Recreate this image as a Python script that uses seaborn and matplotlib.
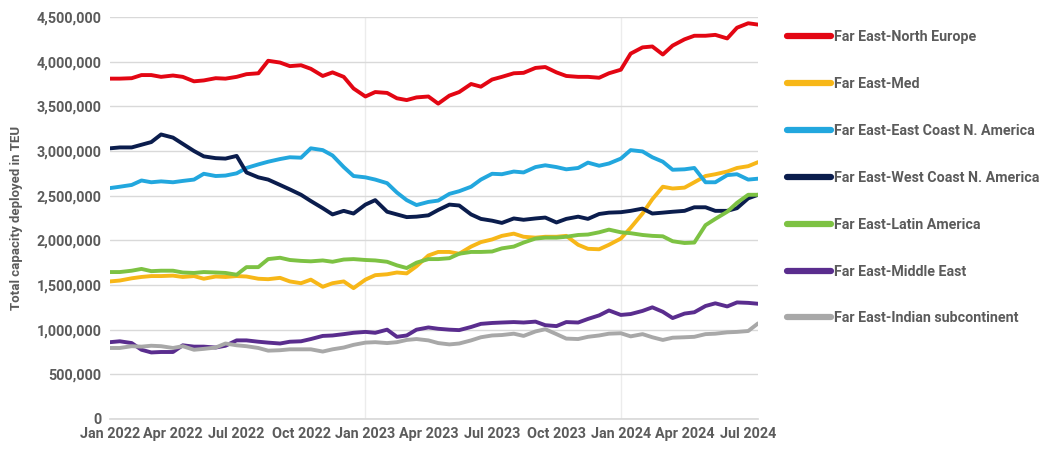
import numpy as np
import pandas as pd
import matplotlib
matplotlib.use("Agg")
import matplotlib.pyplot as plt
import matplotlib.dates as mdates
from matplotlib.ticker import FuncFormatter, MultipleLocator
import seaborn as sns

# ---------------- data (TEU, thousands), semi-monthly: 1st & 15th, Jan 2022 - Jul 2024
months = pd.date_range("2022-01-01", "2024-07-01", freq="MS")
dates = []
for m in months:
    dates += [m, m + pd.Timedelta(days=14)]

north_europe = [3810, 3810, 3815, 3850, 3850, 3830, 3845, 3830, 3780, 3790,
                3815, 3810, 3830, 3860, 3870, 4010, 3990, 3950, 3960, 3920,
                3840, 3880, 3830, 3700, 3610, 3660, 3650, 3590, 3570, 3600,
                3610, 3530, 3620, 3660, 3750, 3720, 3800, 3830, 3870, 3875,
                3930, 3940, 3880, 3840, 3830, 3830, 3820, 3870, 3910, 4090,
                4160, 4170, 4080, 4180, 4250, 4290, 4290, 4300, 4260, 4380,
                4430, 4415]
med = [1540, 1550, 1575, 1590, 1600, 1600, 1605, 1590, 1600, 1570,
       1595, 1590, 1600, 1595, 1570, 1565, 1580, 1540, 1520, 1560,
       1480, 1520, 1540, 1465, 1560, 1610, 1620, 1640, 1630, 1710,
       1830, 1870, 1870, 1850, 1930, 1980, 2010, 2050, 2075, 2040,
       2030, 2040, 2040, 2050, 1950, 1905, 1900, 1950, 2020, 2140,
       2300, 2460, 2600, 2580, 2590, 2650, 2720, 2740, 2770, 2810,
       2830, 2875]
east_coast = [2585, 2600, 2620, 2670, 2650, 2660, 2650, 2665, 2680, 2745,
              2720, 2725, 2750, 2810, 2850, 2880, 2910, 2930, 2925, 3030,
              3010, 2950, 2820, 2720, 2705, 2680, 2640, 2535, 2450, 2395,
              2430, 2445, 2520, 2550, 2600, 2680, 2745, 2740, 2770, 2760,
              2820, 2840, 2820, 2795, 2810, 2870, 2835, 2860, 2915, 3010,
              2995, 2930, 2880, 2790, 2795, 2810, 2650, 2650, 2730, 2740,
              2680, 2690]
west_coast = [3030, 3040, 3040, 3070, 3100, 3185, 3150, 3080, 3000, 2940,
              2920, 2915, 2945, 2760, 2705, 2680, 2620, 2570, 2510, 2440,
              2360, 2290, 2330, 2300, 2400, 2450, 2320, 2290, 2260, 2265,
              2280, 2340, 2400, 2390, 2290, 2240, 2220, 2195, 2245, 2230,
              2245, 2255, 2200, 2240, 2265, 2240, 2295, 2310, 2315, 2330,
              2355, 2300, 2310, 2320, 2330, 2370, 2370, 2330, 2330, 2360,
              2470, 2510]
latin_america = [1645, 1645, 1660, 1680, 1655, 1660, 1660, 1640, 1635, 1645,
                 1640, 1635, 1615, 1700, 1700, 1790, 1805, 1780, 1770, 1765,
                 1775, 1760, 1785, 1790, 1780, 1775, 1760, 1720, 1690, 1750,
                 1790, 1790, 1800, 1850, 1870, 1870, 1875, 1910, 1930, 1975,
                 2020, 2030, 2030, 2040, 2060, 2065, 2090, 2120, 2090, 2080,
                 2060, 2050, 2045, 1990, 1970, 1975, 2170, 2240, 2320, 2420,
                 2510, 2510]
middle_east = [860, 870, 850, 775, 745, 750, 750, 825, 810, 810,
               800, 820, 880, 880, 865, 855, 845, 865, 870, 895,
               930, 935, 950, 965, 975, 965, 1000, 920, 935, 1000,
               1025, 1010, 1000, 995, 1030, 1065, 1075, 1080, 1085, 1080,
               1090, 1050, 1040, 1085, 1080, 1120, 1160, 1215, 1165, 1175,
               1210, 1250, 1200, 1130, 1180, 1195, 1265, 1295, 1260, 1305,
               1300, 1290]
indian_sub = [795, 795, 815, 810, 820, 815, 795, 815, 775, 785,
              800, 845, 825, 815, 795, 765, 770, 780, 780, 780,
              755, 780, 800, 830, 855, 860, 850, 860, 885, 895,
              880, 850, 835, 845, 880, 915, 935, 940, 955, 930,
              980, 1005, 950, 900, 895, 920, 935, 955, 960, 925,
              950, 915, 885, 910, 915, 920, 950, 955, 970, 975,
              985, 1070]

series_names = ["Far East-North Europe", "Far East-Med",
                "Far East-East Coast N. America", "Far East-West Coast N. America",
                "Far East-Latin America", "Far East-Middle East",
                "Far East-Indian subcontinent"]
series_values = [north_europe, med, east_coast, west_coast,
                 latin_america, middle_east, indian_sub]
colors = ["#E30613", "#F7B718", "#22A7DE", "#0B1D4D",
          "#7DC243", "#5A2D8E", "#A8A8A8"]

frames = []
for name, vals in zip(series_names, series_values):
    frames.append(pd.DataFrame({"date": dates, "teu": np.array(vals) * 1000,
                                "route": name}))
df = pd.concat(frames, ignore_index=True)

# ---------------- figure
sns.set_theme(style="white")
plt.rcParams["font.family"] = ["Roboto", "DejaVu Sans"]
text_color = "#5b5b5b"

fig = plt.figure(figsize=(10.39, 4.49), dpi=100)
ax = fig.add_axes([110 / 1039, 1 - 419 / 449, (758 - 110) / 1039, (419 - 17) / 449])

sns.lineplot(data=df, x="date", y="teu", hue="route", hue_order=series_names,
             palette=colors, linewidth=2.8, ax=ax, legend=False)

ax.set_ylim(0, 4_500_000)
ax.set_xlim(pd.Timestamp("2022-01-01"), pd.Timestamp("2024-07-15"))
ax.yaxis.set_major_locator(MultipleLocator(500_000))
ax.yaxis.set_major_formatter(FuncFormatter(lambda v, p: f"{int(v):,}"))
ax.xaxis.set_major_locator(mdates.MonthLocator(bymonth=[1, 4, 7, 10]))
ax.xaxis.set_major_formatter(mdates.DateFormatter("%b %Y"))

ax.grid(axis="y", color="#d9d9d9", linewidth=1)
for yr in ["2023-01-01", "2024-01-01"]:
    ax.axvline(pd.Timestamp(yr), color="#ececec", linewidth=1, zorder=0)
ax.set_axisbelow(True)

for s in ["top", "right", "left"]:
    ax.spines[s].set_visible(False)
ax.spines["bottom"].set_color("#d9d9d9")
ax.tick_params(axis="both", length=0, labelsize=10.4, labelcolor=text_color, pad=6)
for lbl in ax.get_xticklabels() + ax.get_yticklabels():
    lbl.set_fontweight("bold")

ax.set_xlabel("")
ax.set_ylabel("Total capacity deployed in TEU", fontsize=9.5, color=text_color,
              fontweight="bold", labelpad=10)

handles = [plt.Line2D([0], [0], color=c, linewidth=4.5, solid_capstyle="round")
           for c in colors]
leg = fig.legend(handles, series_names, loc="upper left",
                 bbox_to_anchor=(787 / 1039, 1 - 30 / 449), frameon=False,
                 fontsize=10.3, handlelength=3.1, handletextpad=0.2,
                 labelspacing=2.3, borderpad=0, borderaxespad=0)
for t in leg.get_texts():
    t.set_color(text_color)
    t.set_fontweight("bold")

fig.savefig("out.png", dpi=100)
